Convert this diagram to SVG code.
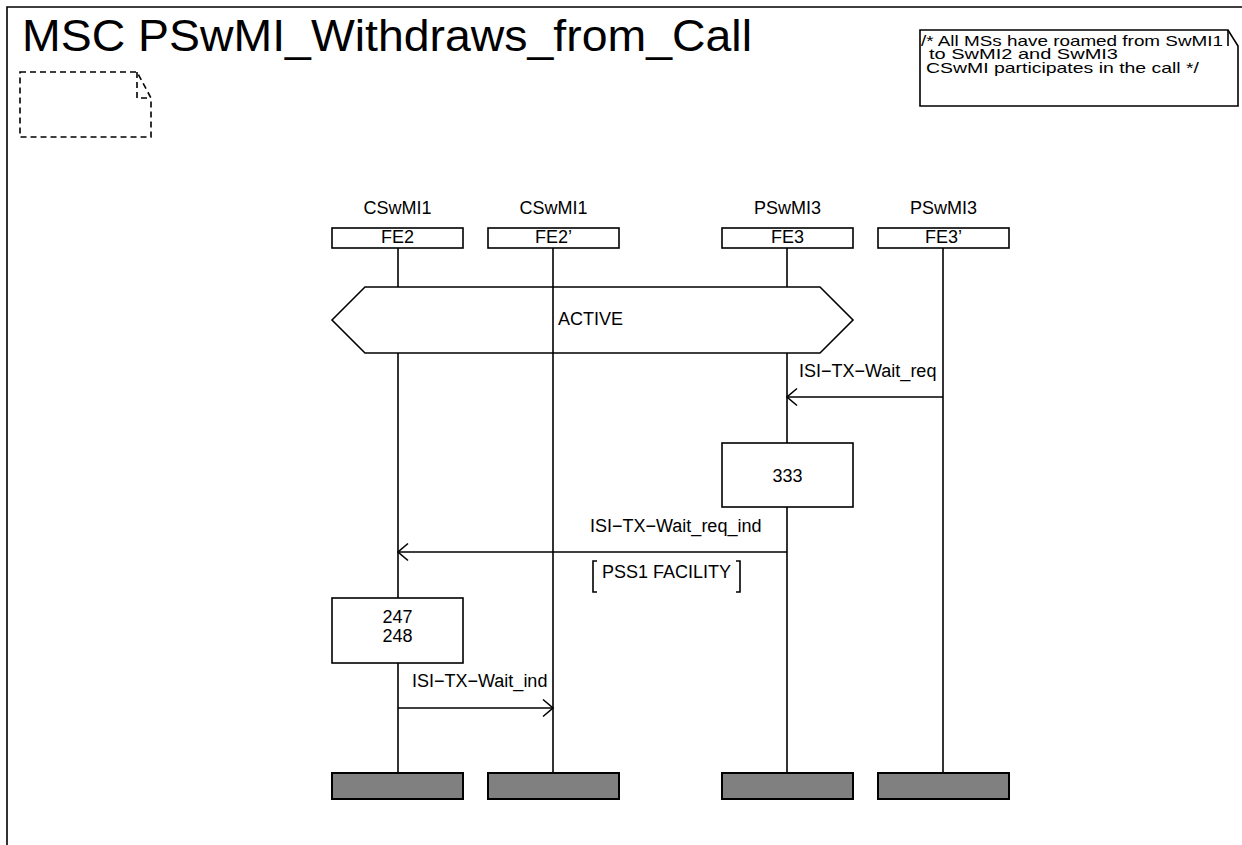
<svg xmlns="http://www.w3.org/2000/svg" width="1242" height="845" viewBox="0 0 1242 845">
<style>
.ln{stroke:#000;stroke-width:1.6;fill:none}
.box{fill:#fff;stroke:#000;stroke-width:1.6}
.end{fill:#808080;stroke:#000;stroke-width:2}
.dash{fill:none;stroke:#000;stroke-width:1.6;stroke-dasharray:6 4}
text{font-family:"Liberation Sans",Arial,Helvetica,sans-serif;font-size:18px;fill:#000}
.mid{text-anchor:middle}
.note{font-size:14.5px}
</style>
<defs>
<marker id="open" markerUnits="userSpaceOnUse" markerWidth="14" markerHeight="20" refX="11" refY="10" orient="auto">
<path d="M1,1.5 L11,10 L1,18.5" fill="none" stroke="#000" stroke-width="1.6"/>
</marker>
</defs>
<rect x="0" y="0" width="1242" height="845" fill="#fff"/>
<g id="frame">
<path class="ln" d="M7,846 V7 H1243"/>
<text x="22" y="51" style="font-size:44px" textLength="730" lengthAdjust="spacingAndGlyphs">MSC PSwMI_Withdraws_from_Call</text>
<path class="dash" d="M20,72 H137 L151,98 V137 H20 Z"/>
<path class="dash" d="M137,72 V98 H151"/>
</g>
<g id="comment">
<path class="box" d="M920,30 H1228 L1238,46 V106 H920 Z"/>
<path class="ln" d="M1228,30 V46"/>
<text class="note" x="921" y="45.5" textLength="302" lengthAdjust="spacingAndGlyphs">/* All MSs have roamed from SwMI1</text>
<text class="note" x="929" y="59" textLength="189" lengthAdjust="spacingAndGlyphs">to SwMI2 and SwMI3</text>
<text class="note" x="926" y="72.5" textLength="273" lengthAdjust="spacingAndGlyphs">CSwMI participates in the call */</text>
</g>
<g id="inst-FE2">
<text class="mid" x="397.5" y="214">CSwMI1</text>
<rect class="box" x="332" y="228" width="131" height="20"/>
<text class="mid" x="397.5" y="243">FE2</text>
<path class="ln" d="M398,248 V287 M398,353 V598 M398,663 V773"/>
<rect class="end" x="332" y="773" width="131" height="26"/>
</g>
<g id="inst-FE3">
<text class="mid" x="787.5" y="214">PSwMI3</text>
<rect class="box" x="722" y="228" width="131" height="20"/>
<text class="mid" x="787.5" y="243">FE3</text>
<path class="ln" d="M787,248 V287 M787,353 V443 M787,507 V773"/>
<rect class="end" x="722" y="773" width="131" height="26"/>
</g>
<g id="cond-ACTIVE">
<path class="box" d="M332,320 L365,287 H820 L853,320 L820,353 H365 Z"/>
<text x="558" y="325">ACTIVE</text>
</g>
<g id="inst-FE2p">
<text class="mid" x="553.5" y="214">CSwMI1</text>
<rect class="box" x="488" y="228" width="131" height="20"/>
<text class="mid" x="553.5" y="243">FE2’</text>
<path class="ln" d="M553,248 V773"/>
<rect class="end" x="488" y="773" width="131" height="26"/>
</g>
<g id="inst-FE3p">
<text class="mid" x="943.5" y="214">PSwMI3</text>
<rect class="box" x="878" y="228" width="131" height="20"/>
<text class="mid" x="943.5" y="243">FE3’</text>
<path class="ln" d="M943,248 V773"/>
<rect class="end" x="878" y="773" width="131" height="26"/>
</g>
<g id="action-333">
<rect class="box" x="722" y="443" width="131" height="64"/>
<text class="mid" x="787.5" y="482">333</text>
</g>
<g id="action-247-248">
<rect class="box" x="332" y="598" width="131" height="65"/>
<text class="mid" x="397.5" y="623">247</text>
<text class="mid" x="397.5" y="642">248</text>
</g>
<g id="connectors">
<line class="ln" x1="943" y1="397" x2="787" y2="397" marker-end="url(#open)"/>
<text x="799" y="377">ISI−TX−Wait_req</text>
<line class="ln" x1="787" y1="552" x2="398" y2="552" marker-end="url(#open)"/>
<text x="590" y="532">ISI−TX−Wait_req_ind</text>
<path class="ln" d="M597,561 H593 V592 H597 M736,561 H740 V592 H736"/>
<text x="602" y="578">PSS1 FACILITY</text>
<line class="ln" x1="398" y1="708" x2="553" y2="708" marker-end="url(#open)"/>
<text x="412" y="687">ISI−TX−Wait_ind</text>
</g>
</svg>
